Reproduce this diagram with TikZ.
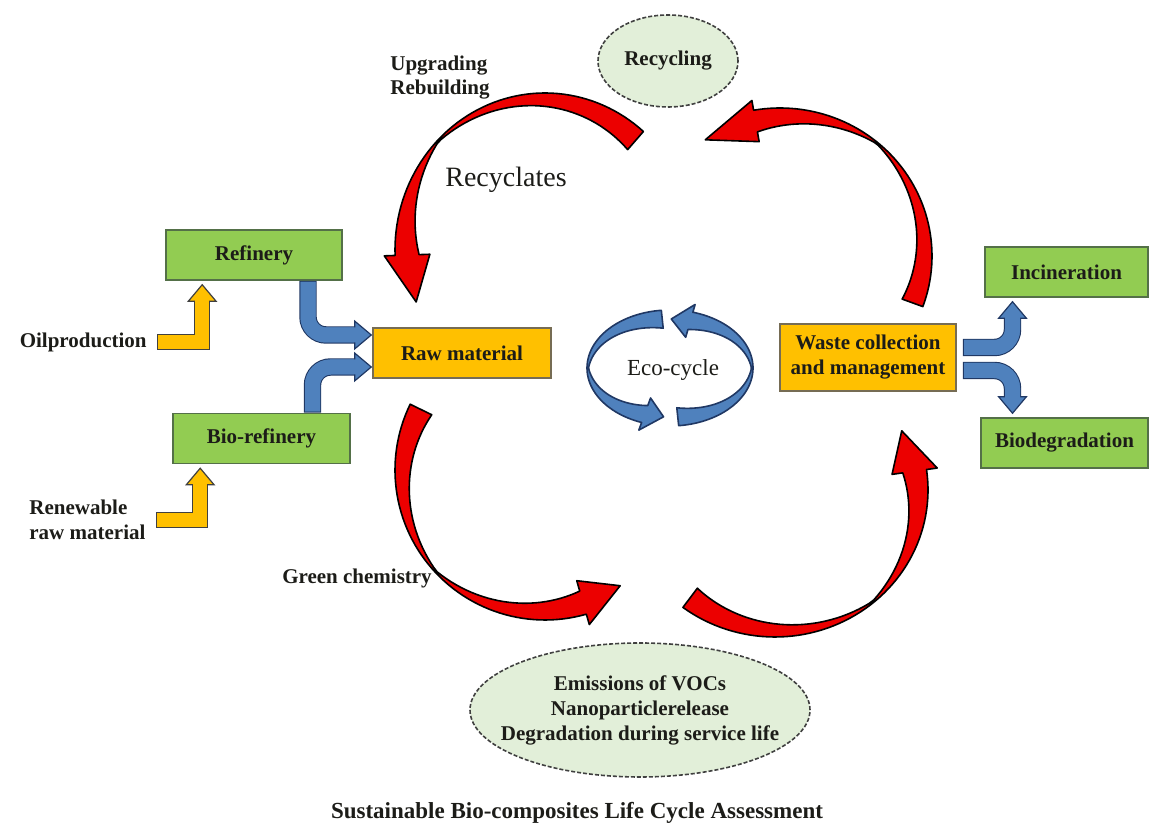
\documentclass[tikz,border=0pt]{standalone}
\usepackage{fontspec}
\setmainfont{Liberation Serif}
\usetikzlibrary{arrows.meta,positioning,calc,shapes.geometric}
\definecolor{LcaGreen}{RGB}{146,204,82}
\definecolor{LcaGreenEdge}{RGB}{84,112,72}
\definecolor{LcaAmber}{RGB}{255,192,0}
\definecolor{LcaAmberEdge}{RGB}{118,108,84}
\definecolor{LcaBlue}{RGB}{79,129,189}
\definecolor{LcaBlueEdge}{RGB}{32,56,100}
\definecolor{LcaRed}{RGB}{236,0,0}
\definecolor{LcaPale}{RGB}{226,239,217}
\definecolor{LcaInk}{RGB}{28,28,24}
% band width along a ribbon: full at both ends, thin at the twist
\newcommand{\ribbonw}[5]{(1.5+(#5-1.5)*((#1<#3)*(#3-#1)/(#3-#2)+(1-(#1<#3))*(#1-#3)/(#4-#3)))}
% cx, cy, rx, ry, tail, twist, head base, tip, width
\newcommand{\ribbonarrow}[9]{%
  plot[domain=#5:#7,samples=60,variable=\t]
    ({#1+#3*cos(\t)},{#2+#4*sin(\t)})
  -- ({#1+(#3+0.45*#9)*cos(#7)},{#2+(#4+0.45*#9)*sin(#7)})
  -- ({#1+(#3-0.5*#9)*cos(#8)},{#2+(#4-0.5*#9)*sin(#8)})
  -- ({#1+(#3-1.45*#9)*cos(#7)},{#2+(#4-1.45*#9)*sin(#7)})
  -- plot[domain=#7:#5,samples=60,variable=\t]
    ({#1+(#3-\ribbonw{\t}{#5}{#6}{#7}{#9})*cos(\t)},{#2+(#4-\ribbonw{\t}{#5}{#6}{#7}{#9})*sin(\t)})
  -- cycle}
\tikzset{
  lca/box/.style={
    draw=LcaGreenEdge,
    thick,
    fill=LcaGreen,
    align=center,
    text=LcaInk,
    minimum height=25pt,
    inner sep=2pt,
    font=\bfseries\fontsize{10.5}{12.5}\selectfont
  },
  lca/stock/.style={
    lca/box,
    draw=LcaAmberEdge,
    fill=LcaAmber
  },
  lca/cloud/.style={
    ellipse,
    draw=black!75,
    thick,
    dash pattern=on 2pt off 1pt,
    fill=LcaPale,
    align=center,
    text=LcaInk,
    inner sep=0pt,
    font=\bfseries\fontsize{10.5}{12.5}\selectfont
  },
  lca/label/.style={font=\bfseries\fontsize{10.5}{12.5}\selectfont, text=LcaInk, inner sep=2pt},
  lca/feed/.style={
    draw=LcaAmber, line width=7pt, shorten <=0.6pt,
    -{Triangle[length=9pt,width=15pt,fill=LcaAmber,color=black!75,line width=0.6pt]},
    preaction={-, draw=black!75, line width=8.2pt, shorten <=0pt, shorten >=8pt},
    postaction={-, draw=LcaAmber, line width=7pt, shorten <=0.6pt, shorten >=8pt}
  },
  lca/flow/.style={
    draw=LcaBlue, line width=7.5pt, rounded corners=9pt, shorten <=0.6pt,
    -{Triangle[length=9pt,width=15pt,fill=LcaBlue,color=LcaBlueEdge,line width=0.6pt]},
    preaction={-, draw=LcaBlueEdge, line width=8.7pt, shorten <=0pt, shorten >=8pt},
    postaction={-, draw=LcaBlue, line width=7.5pt, shorten <=0.6pt, shorten >=8pt}
  },
  lca/band/.style={fill=LcaRed, draw=black, line width=0.8pt, line join=round},
  lca/ecoband/.style={fill=LcaBlue, draw=LcaBlueEdge, line width=0.8pt, line join=round}
}

\begin{document}
\begin{tikzpicture}[x=0.5pt,y=0.5pt]
  \useasboundingbox (0,0) rectangle (1151,834);
  \node[lca/box,minimum width=88pt] (refinery) at (254,579) {Refinery};
  \node[lca/box,minimum width=88.5pt] (biorefinery) at (261.5,395.5) {Bio-refinery};
  \node[lca/stock,minimum width=89pt] (raw) at (462,481) {Raw material};
  \node[lca/stock,minimum width=88pt,minimum height=33.5pt] (waste) at (868,476.5) {Waste collection\\and management};
  \node[lca/box,minimum width=81.5pt] (incin) at (1066.5,562) {Incineration};
  \node[lca/box,minimum width=83.5pt] (biodeg) at (1064.5,391) {Biodegradation};
  \node[lca/cloud,minimum width=70pt,minimum height=46pt] (recycling) at (668,773) {Recycling};
  \node[lca/cloud,minimum width=170pt,minimum height=67pt,inner xsep=-12pt] (emissions) at (640,124)
    {Emissions of VOCs\\Nanoparticlerelease\\Degradation during service life};
  \node[lca/label,anchor=east] (oil) at (151,492) {Oilproduction};
  \node[lca/label,anchor=west,align=left] (renew) at (25,314) {Renewable\\raw material};
  \node[lca/label] (green) at (357,256) {Green chemistry};
  \node[lca/label,anchor=west,align=left,font=\bfseries\fontsize{10.5}{12}\selectfont] (upgrade) at (386,756) {Upgrading\\Rebuilding};
  \node[font=\fontsize{14}{16}\selectfont,text=LcaInk] (recyclates) at (506,654) {Recyclates};
  \node[font=\fontsize{11.5}{13}\selectfont,text=LcaInk] (eco) at (673,464) {Eco-cycle};
  \node[lca/label,font=\bfseries\fontsize{11.5}{13}\selectfont] (title) at (577,21) {Sustainable Bio-composites Life Cycle Assessment};
  % inputs
  \draw[lca/feed] ([xshift=3pt]oil.east) -| ($(refinery.south west)+(37,-3)$);
  \draw[lca/feed] ([xshift=3pt]renew.east) -| ($(biorefinery.south west)+(28,-3)$);
  \draw[lca/flow] ($(refinery.south)+(54,0)$) |- ($(raw.west)+(0,18)$);
  \draw[lca/flow] ($(biorefinery.north)+(51,0)$) |- ($(raw.west)+(0,-14)$);
  \draw[lca/flow] ($(waste.east)+(6,10)$) -| ($(incin.south)+(-54,-3)$);
  \draw[lca/flow] ($(waste.east)+(6,-13)$) -| ($(biodeg.north)+(-52,3)$);
  % life cycle
  \filldraw[lca/band] \ribbonarrow{545}{584}{150}{157}{49}{136}{182}{201}{24};
  \filldraw[lca/band] \ribbonarrow{780}{578}{152}{148}{-20}{50}{100}{122}{22};
  \filldraw[lca/band] \ribbonarrow{545}{364}{150}{150}{154}{223}{286}{303}{24};
  \filldraw[lca/band] \ribbonarrow{775}{344}{153}{147}{233}{310}{368}{386}{24};
  % eco-cycle
  \filldraw[lca/ecoband] \ribbonarrow{670}{466}{83}{58}{96}{180}{250}{265}{18};
  \filldraw[lca/ecoband] \ribbonarrow{670}{466}{83}{58}{276}{360}{434}{449}{18};
\end{tikzpicture}
\end{document}
